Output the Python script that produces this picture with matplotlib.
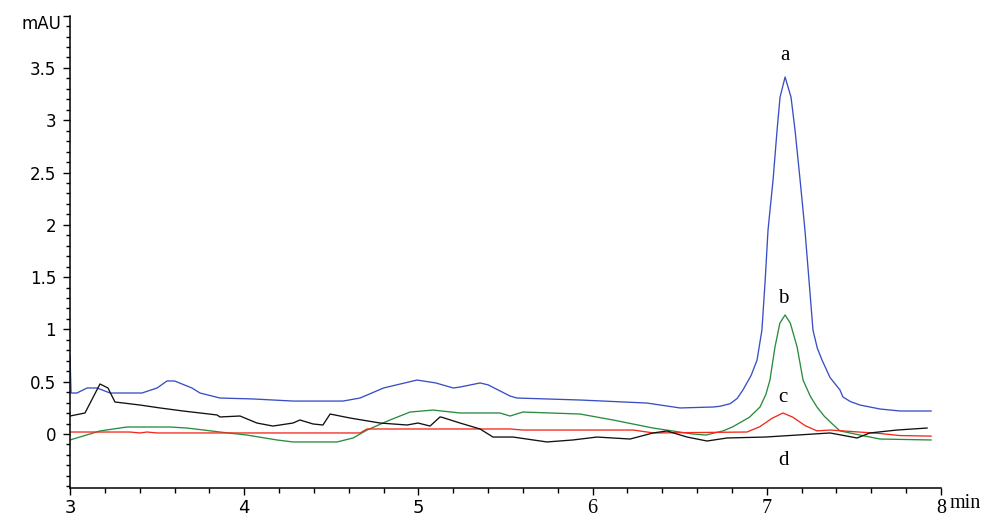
import matplotlib
matplotlib.use('Agg')
import matplotlib.pyplot as plt
from matplotlib.ticker import MultipleLocator

# retention time (min) / absorbance (mAU) for the four traces
a_time = [3.000, 3.006, 3.040, 3.098, 3.155, 3.230, 3.413, 3.500, 3.557, 3.600, 3.700, 3.746,
          3.861, 4.051, 4.280, 4.567, 4.665, 4.800, 4.992, 5.100, 5.200, 5.239, 5.354, 5.400,
          5.526, 5.566, 5.928, 6.312, 6.502, 6.691, 6.731, 6.790, 6.830, 6.863, 6.910, 6.944,
          6.972, 6.990, 7.007, 7.036, 7.059, 7.076, 7.105, 7.139, 7.162, 7.191, 7.219, 7.248,
          7.265, 7.290, 7.317, 7.363, 7.420, 7.437, 7.480, 7.535, 7.650, 7.765, 7.943]
a_mau = [0.750, 0.392, 0.392, 0.440, 0.440, 0.392, 0.392, 0.440, 0.507, 0.507, 0.440, 0.392,
         0.344, 0.335, 0.315, 0.315, 0.344, 0.440, 0.516, 0.488, 0.440, 0.449, 0.488, 0.470,
         0.363, 0.344, 0.325, 0.296, 0.249, 0.258, 0.265, 0.290, 0.340, 0.421, 0.560, 0.707,
         0.994, 1.450, 1.950, 2.430, 2.906, 3.220, 3.413, 3.220, 2.906, 2.430, 1.950, 1.350,
         0.994, 0.820, 0.707, 0.540, 0.421, 0.354, 0.310, 0.277, 0.239, 0.220, 0.220]

b_time = [3.000, 3.172, 3.327, 3.574, 3.672, 3.861, 4.016, 4.188, 4.280, 4.533, 4.625, 4.705,
          4.837, 4.952, 5.084, 5.239, 5.468, 5.526, 5.600, 5.928, 6.117, 6.347, 6.576, 6.650,
          6.750, 6.806, 6.900, 6.961, 6.995, 7.018, 7.047, 7.075, 7.105, 7.135, 7.174, 7.208,
          7.250, 7.288, 7.330, 7.380, 7.420, 7.535, 7.650, 7.943]
b_mau = [-0.057, 0.029, 0.067, 0.067, 0.057, 0.019, -0.010, -0.057, -0.076, -0.076, -0.038, 0.038,
         0.134, 0.210, 0.229, 0.201, 0.201, 0.172, 0.210, 0.191, 0.134, 0.057, 0.000, -0.010,
         0.030, 0.070, 0.160, 0.258, 0.380, 0.516, 0.832, 1.060, 1.138, 1.060, 0.832, 0.516,
         0.360, 0.258, 0.170, 0.090, 0.030, -0.010, -0.048, -0.057]

c_time = [3.000, 3.344, 3.402, 3.442, 3.500, 4.665, 4.705, 5.526, 5.600, 6.232, 6.350, 6.886,
          6.960, 7.030, 7.093, 7.150, 7.220, 7.288, 7.363, 7.650, 7.765, 7.943]
c_mau = [0.019, 0.019, 0.010, 0.019, 0.010, 0.010, 0.048, 0.048, 0.038, 0.038, 0.010, 0.019,
         0.070, 0.150, 0.201, 0.160, 0.080, 0.030, 0.038, 0.005, -0.015, -0.020]

d_time = [3.000, 3.086, 3.172, 3.218, 3.258, 3.402, 3.517, 3.649, 3.844, 3.861, 3.976, 4.073,
          4.165, 4.280, 4.320, 4.395, 4.452, 4.493, 4.607, 4.780, 4.935, 4.998, 5.067, 5.124,
          5.135, 5.239, 5.354, 5.428, 5.543, 5.738, 5.887, 6.025, 6.215, 6.347, 6.427, 6.542,
          6.657, 6.772, 6.990, 7.174, 7.363, 7.518, 7.592, 7.747, 7.920]
d_mau = [0.172, 0.201, 0.478, 0.440, 0.306, 0.277, 0.249, 0.220, 0.182, 0.163, 0.172, 0.105,
         0.076, 0.105, 0.134, 0.096, 0.086, 0.191, 0.153, 0.105, 0.086, 0.105, 0.076, 0.163,
         0.160, 0.105, 0.048, -0.029, -0.029, -0.076, -0.057, -0.029, -0.048, 0.010, 0.029, -0.029,
         -0.067, -0.038, -0.029, -0.010, 0.010, -0.038, 0.010, 0.038, 0.057]

# trace label positions (min, mAU)
trace_labels = ['a', 'b', 'c', 'd']
label_x = [7.105, 7.093, 7.093, 7.093]
label_y = [3.62, 1.30, 0.35, -0.25]

x_ticks = [3, 4, 5, 6, 7, 8]
y_ticks = [0, 0.5, 1, 1.5, 2, 2.5, 3, 3.5, 4]
y_ticklabels = ['0', '0.5', '1', '1.5', '2', '2.5', '3', '3.5', '']

SANS = 'DejaVu Sans'
SERIF = 'Liberation Serif'

fig = plt.figure(figsize=(9.85, 5.17), dpi=100)
ax = fig.add_axes([0.07107, 0.05532, 0.88426, 0.91451])

ax.plot(a_time, a_mau, color='#3a4ec4', lw=0.95)
ax.plot(b_time, b_mau, color='#2a8c3c', lw=0.95)
ax.plot(c_time, c_mau, color='#f22a1c', lw=0.95)
ax.plot(d_time, d_mau, color='#111111', lw=0.95)

for lab, lx, ly in zip(trace_labels, label_x, label_y):
    ax.text(lx, ly, lab, family=SERIF, fontsize=15, ha='center', va='center')

ax.set_xlim(3, 8)
ax.set_ylim(-0.52, 4.0)

for side in ['top', 'right']:
    ax.spines[side].set_visible(False)
for side in ['left', 'bottom']:
    ax.spines[side].set_linewidth(1.1)

ax.set_xticks(x_ticks)
ax.set_xticklabels([str(t) for t in x_ticks])
ax.xaxis.set_minor_locator(MultipleLocator(0.2))
ax.set_yticks(y_ticks)
ax.set_yticklabels(y_ticklabels)
ax.yaxis.set_minor_locator(MultipleLocator(0.1))

ax.tick_params(axis='x', which='major', direction='out', length=5, width=1, pad=2.5)
ax.tick_params(axis='x', which='minor', direction='out', length=3.5, width=1)
ax.tick_params(axis='y', which='major', direction='out', length=5, width=1, pad=5)
ax.tick_params(axis='y', which='minor', direction='out', length=3, width=1)

for lbl in ax.get_yticklabels():
    lbl.set_fontfamily(SANS)
    lbl.set_fontsize(12)
for lbl, t in zip(ax.get_xticklabels(), x_ticks):
    if t <= 5:
        lbl.set_fontfamily(SANS)
        lbl.set_fontsize(13)
    else:
        lbl.set_fontfamily(SERIF)
        lbl.set_fontsize(14.5)

# unit labels
ax.annotate('min', xy=(8, 0), xycoords=('data', 'axes fraction'), xytext=(6, -4),
            textcoords='offset points', family=SERIF, fontsize=14.5, ha='left', va='top')
ax.annotate('mAU', xy=(0, 3.92), xycoords=('axes fraction', 'data'), xytext=(-6, 0),
            textcoords='offset points', family=SANS, fontsize=12, ha='right', va='center')

fig.savefig('out.png', dpi=100)
